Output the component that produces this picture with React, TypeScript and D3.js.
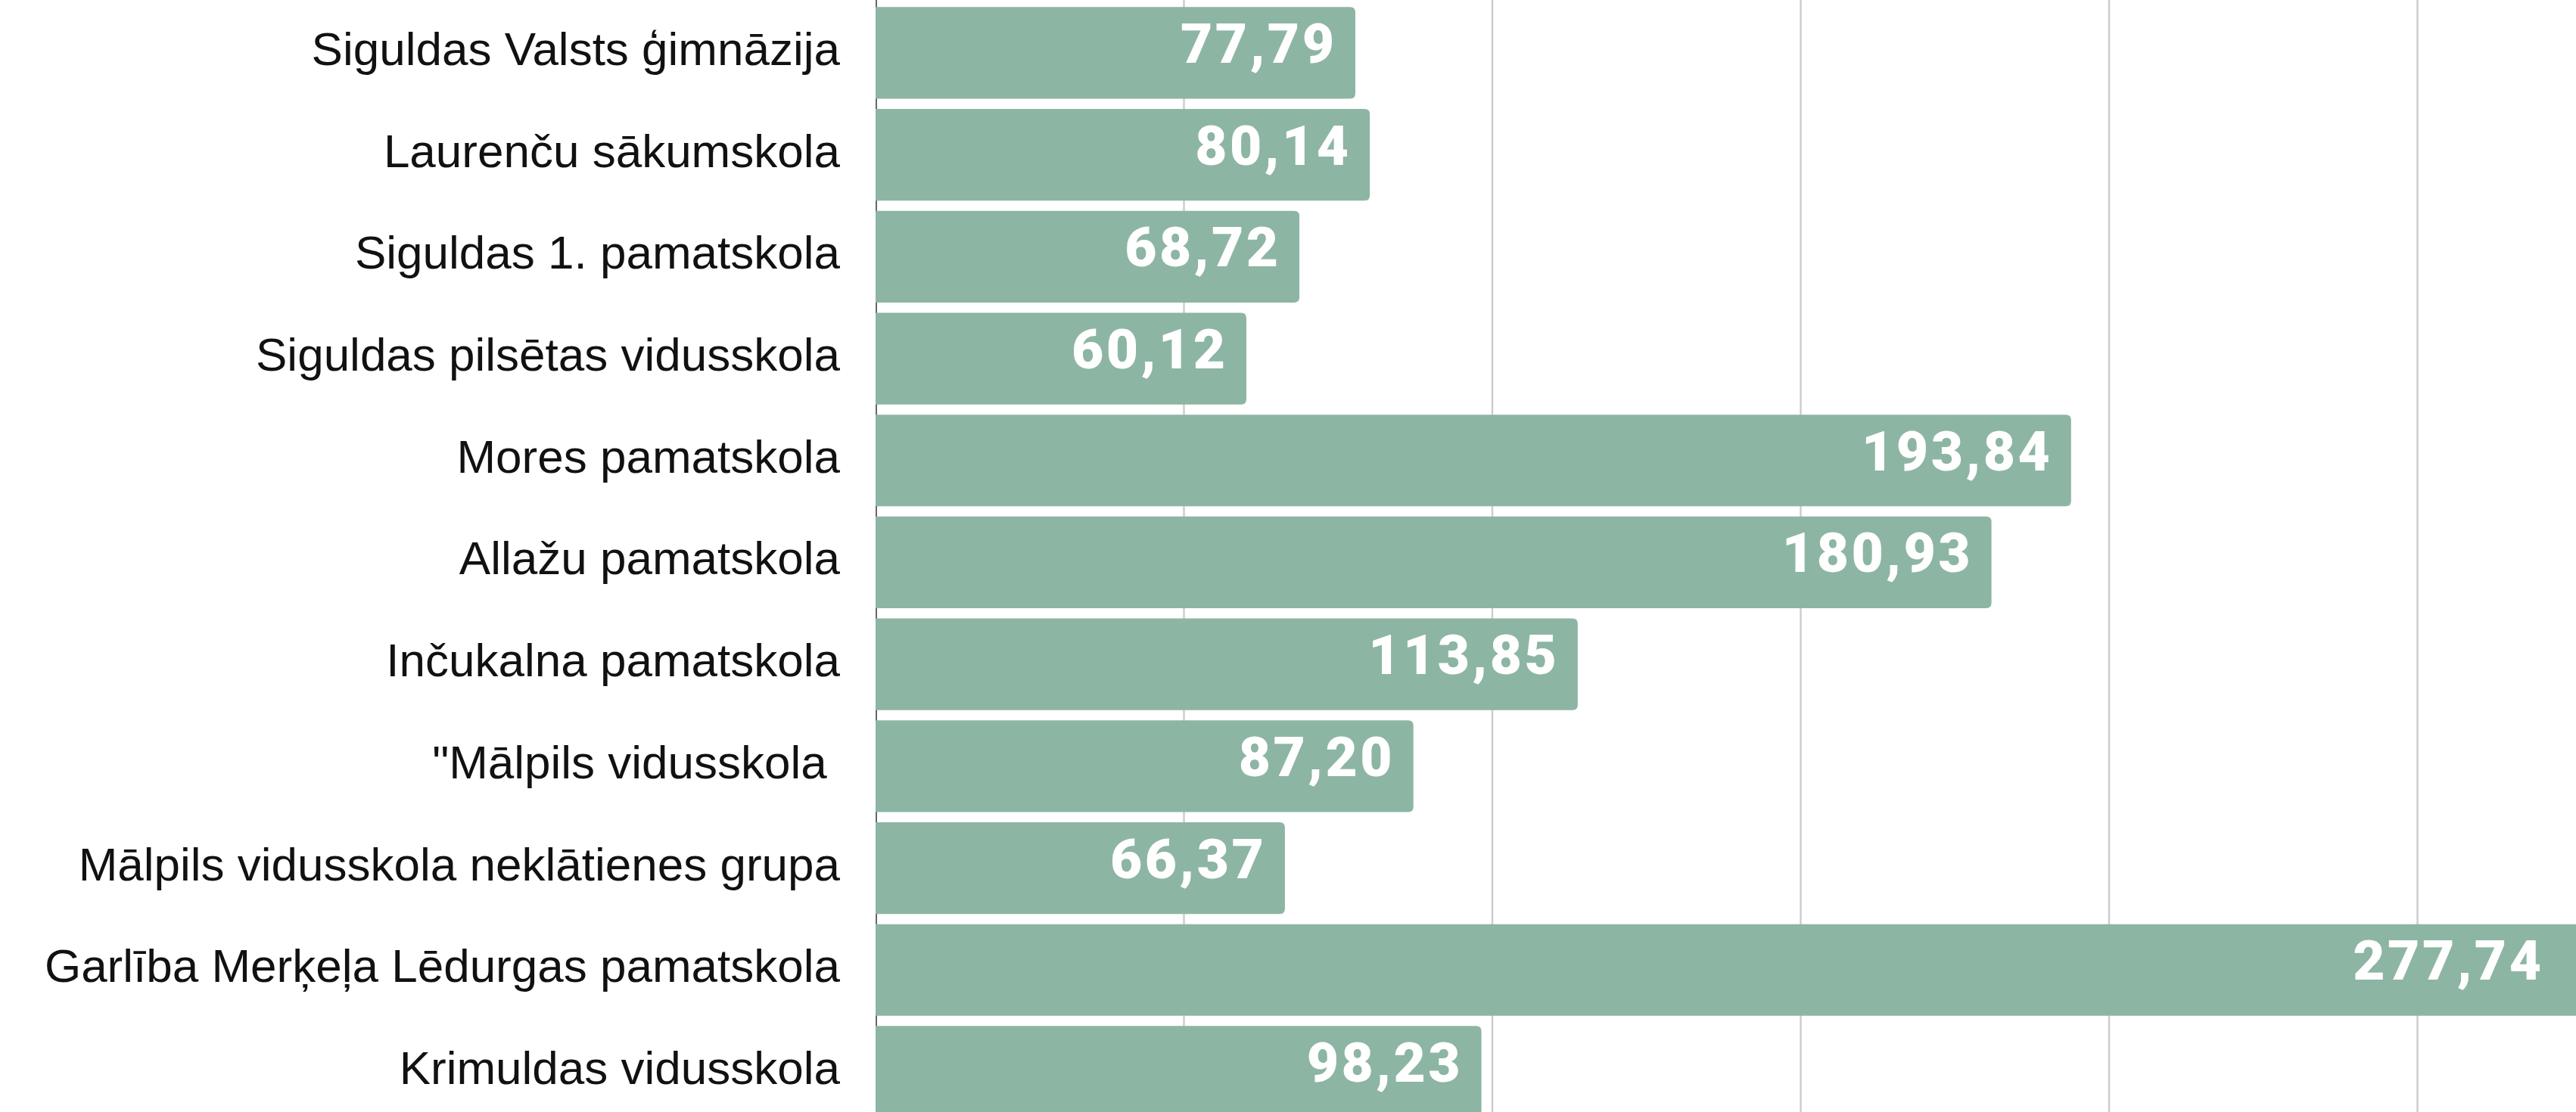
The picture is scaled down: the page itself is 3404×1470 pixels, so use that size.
import React from "react";
import * as d3 from "d3";

const width = 3404;
const height = 1470;
const margin = { left: 1157, right: 18, labelGap: 47 };

const schools = [
  "Siguldas Valsts ģimnāzija",
  "Laurenču sākumskola",
  "Siguldas 1. pamatskola",
  "Siguldas pilsētas vidusskola",
  "Mores pamatskola",
  "Allažu pamatskola",
  "Inčukalna pamatskola",
  "\"Mālpils vidusskola ",
  "Mālpils vidusskola neklātienes grupa",
  "Garlība Merķeļa Lēdurgas pamatskola",
  "Krimuldas vidusskola"
];
const values = [77.79, 80.14, 68.72, 60.12, 193.84, 180.93, 113.85, 87.2, 66.37, 277.74, 98.23];
const gridTicks = [50, 100, 150, 200, 250, 300];

const barColor = "#8db5a3";
const fmt = (v: number) => v.toFixed(2).replace(".", ",");

// bar with square left end and rounded right end
function barPath(x0: number, x1: number, y: number, h: number, r: number) {
  return `M${x0},${y}H${x1 - r}Q${x1},${y} ${x1},${y + r}V${y + h - r}Q${x1},${y + h} ${x1 - r},${y + h}H${x0}Z`;
}

export default function App() {
  const x = d3.scaleLinear().domain([0, 300]).range([margin.left, margin.left + 300 * 8.15]);
  const y = d3
    .scaleBand<number>()
    .domain(d3.range(schools.length))
    .range([2.6, 2.6 + 134.7 * schools.length])
    .paddingInner(0.1)
    .paddingOuter(0.05);

  const ls = 3.5;
  const plotRight = width - margin.right;

  return (
    <svg
      width={width}
      height={height}
      style={{ position: "absolute", left: 0, top: 0, display: "block", background: "#fff" }}
    >
      {gridTicks.map(t => (
        <line key={t} x1={x(t)} x2={x(t)} y1={0} y2={height} stroke="#cccccc" strokeWidth={2.4} />
      ))}
      <line x1={x(0) + 1} x2={x(0) + 1} y1={0} y2={height} stroke="#666" strokeWidth={2} />
      {values.map((v, i) => {
        const y0 = y(i)!;
        const bh = y.bandwidth();
        const cy = y0 + bh / 2;
        return (
          <g key={i}>
            <path d={barPath(x(0), x(v), y0, bh, 7)} fill={barColor} />
            <text
              x={margin.left - margin.labelGap}
              y={cy + 16}
              textAnchor="end"
              fontFamily="'Liberation Sans', Arial, sans-serif"
              fontSize={62}
              fill="#111"
              style={{ whiteSpace: "pre" }}
            >
              {schools[i]}
            </text>
            <text
              x={Math.min(x(v), plotRight) - 28 + ls}
              y={cy + 13}
              textAnchor="end"
              fontFamily="Roboto, sans-serif"
              fontWeight={900}
              fontSize={73}
              letterSpacing={ls}
              fill="#fff"
            >
              {fmt(v)}
            </text>
          </g>
        );
      })}
    </svg>
  );
}
